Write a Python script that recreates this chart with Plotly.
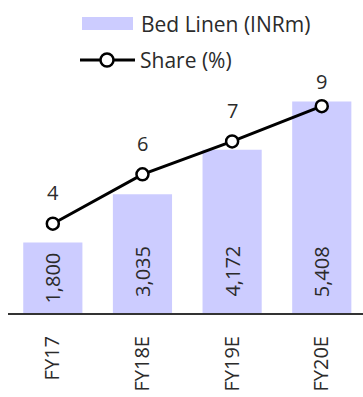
import plotly.graph_objects as go

categories = ["FY17", "FY18E", "FY19E", "FY20E"]
bed_linen = [1800, 3035, 4172, 5408]
share = [3.8, 5.9, 7.3, 8.8]
bar_name = "Bed Linen (INRm)"
line_name = "Share (%)"

W, H = 363, 397
ml, mr, mt, mb = 8, 0, 0, 84
pw, ph = W - ml - mr, H - mt - mb
Y1MAX, Y2MAX = 8000, 13.32

def px(x):
    return (x - ml) / pw

def py(y):
    return (H - mb - y) / ph

FONT = "Open Sans"
TXT = "#2b2b2b"
BAR = "#ccccff"

fig = go.Figure()
fig.add_trace(go.Bar(
    x=categories, y=bed_linen, name=bar_name,
    marker=dict(color=BAR, line=dict(width=0)),
    showlegend=False,
))
fig.add_trace(go.Scatter(
    x=categories, y=share, name=line_name, yaxis="y2", mode="lines+markers",
    line=dict(color="black", width=3),
    marker=dict(symbol="circle", size=12, color="white", line=dict(color="black", width=2.5)),
    showlegend=False,
))

annotations = []
# line value labels (kept below the top edge like the source chart)
LABEL_CENTER_MIN = 82
for c, v in zip(categories, share):
    marker_px = H - mb - v / Y2MAX * ph
    shift = min(31, marker_px - LABEL_CENTER_MIN)
    annotations.append(dict(x=c, y=v, xref="x", yref="y2", text=f"{v:.0f}", showarrow=False,
                            yshift=shift, font=dict(family=FONT, size=20, color=TXT)))
# bar value labels, rotated, inside base
TEXT_LEN = 53
for c, v in zip(categories, bed_linen):
    bar_px = v / Y1MAX * ph
    shift = min(15, (bar_px - TEXT_LEN) / 2)
    annotations.append(dict(x=c, y=0, xref="x", yref="y", text=f"{v:,.0f}", showarrow=False,
                            textangle=-90, yanchor="bottom", yshift=shift, borderpad=0,
                            font=dict(family=FONT, size=20, color=TXT)))
# manual legend text
annotations += [
    dict(x=px(139), y=py(24), xref="paper", yref="paper", text=bar_name, showarrow=False,
         xanchor="left", yanchor="middle", font=dict(family=FONT, size=21, color=TXT)),
    dict(x=px(138), y=py(60), xref="paper", yref="paper", text=line_name, showarrow=False,
         xanchor="left", yanchor="middle", font=dict(family=FONT, size=21, color=TXT)),
]

shapes = [
    dict(type="rect", xref="paper", yref="paper", x0=px(82), x1=px(133), y0=py(30), y1=py(17),
         fillcolor=BAR, line=dict(width=0)),
    dict(type="line", xref="paper", yref="paper", x0=px(80), x1=px(135), y0=py(60), y1=py(60),
         line=dict(color="black", width=3)),
    dict(type="circle", xref="paper", yref="paper", xsizemode="pixel", ysizemode="pixel",
         xanchor=px(107), yanchor=py(60), x0=-6.5, x1=6.5, y0=-6.5, y1=6.5,
         fillcolor="white", line=dict(color="black", width=2.5)),
]

fig.update_layout(
    width=W, height=H,
    margin=dict(l=ml, r=mr, t=mt, b=mb),
    paper_bgcolor="white", plot_bgcolor="white",
    bargap=0.34,
    showlegend=False,
    xaxis=dict(
        range=[-0.5, 3.46], showgrid=False, zeroline=False,
        showline=True, linecolor="#333333", linewidth=2,
        ticks="", tickangle=-90, ticklabelstandoff=13,
        tickfont=dict(family=FONT, size=20, color=TXT),
    ),
    yaxis=dict(range=[0, Y1MAX], visible=False, showgrid=False, zeroline=False),
    yaxis2=dict(range=[0, Y2MAX], overlaying="y", side="right", visible=False,
                showgrid=False, zeroline=False),
    annotations=annotations,
    shapes=shapes,
)

fig.write_html("out.html")
